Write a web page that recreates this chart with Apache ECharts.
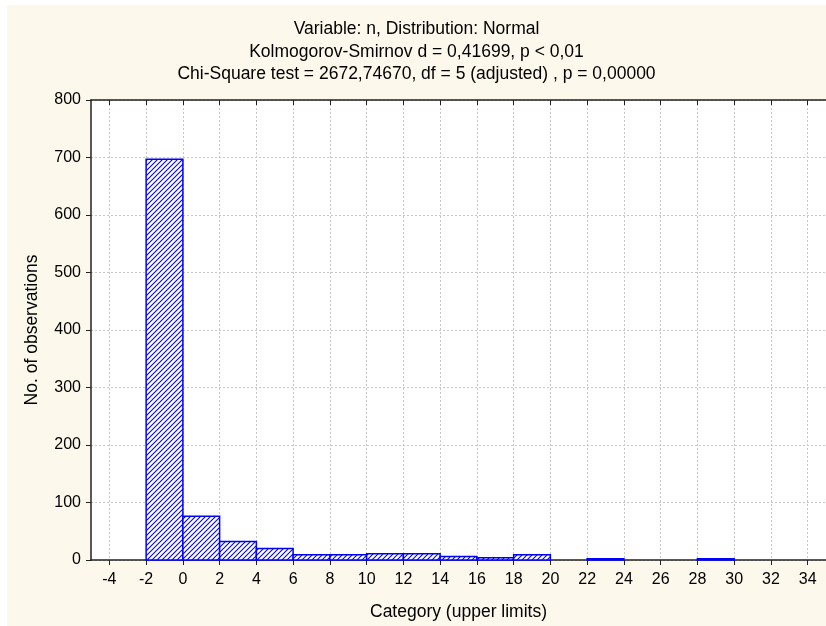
<!DOCTYPE html>
<html>
<head>
<meta charset="utf-8">
<script src="https://cdn.jsdelivr.net/npm/echarts@6/dist/echarts.min.js"></script>
<style>
  html, body { margin: 0; padding: 0; background: #ffffff; }
  #wrap { position: relative; width: 826px; height: 626px; background: #ffffff; overflow: hidden; }
  #chart { position: absolute; left: 7px; top: 5px; width: 819px; height: 621px; }
</style>
</head>
<body>
<div id="wrap"><div id="chart"></div></div>
<script>
// histogram bins (lower / upper limits) and counts
var binLower = [-2, 0, 2, 4, 6, 8, 10, 12, 14, 16, 18, 20, 22, 24, 26, 28, 30, 32];
var binUpper = [0, 2, 4, 6, 8, 10, 12, 14, 16, 18, 20, 22, 24, 26, 28, 30, 32, 34];
var counts = [697, 76, 32, 20, 9, 9, 11, 11, 6, 4, 9, 0, 2, 0, 0, 2, 0, 0];
var xTicks = [-4, -2, 0, 2, 4, 6, 8, 10, 12, 14, 16, 18, 20, 22, 24, 26, 28, 30, 32, 34];
var titleLines = [
  'Variable: n, Distribution: Normal',
  'Kolmogorov-Smirnov d = 0,41699, p < 0,01',
  'Chi-Square test = 2672,74670, df = 5 (adjusted) , p = 0,00000'
];

var FONT = 'Liberation Sans, Arial, sans-serif';
var BLUE = '#0000ff';

// diagonal hatch fill
function makeHatch() {
  var s = 5;
  var c = document.createElement('canvas');
  c.width = s; c.height = s;
  var g = c.getContext('2d');
  g.fillStyle = '#ffffff';
  g.fillRect(0, 0, s, s);
  g.strokeStyle = BLUE;
  g.lineWidth = 1.1;
  g.beginPath();
  g.moveTo(0, s); g.lineTo(s, 0);
  g.moveTo(-1, 1); g.lineTo(1, -1);
  g.moveTo(s - 1, s + 1); g.lineTo(s + 1, s - 1);
  g.stroke();
  return c;
}
var hatch = { image: makeHatch(), repeat: 'repeat' };

var barData = binLower.map(function (lo, i) { return [lo, binUpper[i], counts[i]]; });

var chart = echarts.init(document.getElementById('chart'), null, { renderer: 'canvas' });
chart.setOption({
  backgroundColor: '#fdf8ec',
  animation: false,
  textStyle: { fontFamily: FONT },
  title: {
    text: titleLines.join('\n'),
    left: 'center',
    top: 8,
    textStyle: { color: '#000', fontSize: 17.5, fontWeight: 'normal', fontFamily: FONT, lineHeight: 22.5 }
  },
  grid: {
    left: 84, top: 95, right: -3, bottom: 65,
    show: true, backgroundColor: '#ffffff', borderWidth: 0
  },
  xAxis: [{
    type: 'value',
    min: -5,
    max: 35,
    position: 'bottom',
    name: 'Category (upper limits)',
    nameLocation: 'middle',
    nameGap: 43,
    nameTextStyle: { color: '#000', fontSize: 17.5, fontFamily: FONT },
    axisLine: { onZero: false, lineStyle: { color: '#222', width: 1.5 } },
    axisTick: { show: true, inside: false, length: 5, customValues: xTicks, lineStyle: { color: '#222' } },
    axisLabel: { customValues: xTicks, color: '#000', fontSize: 16, margin: 12, fontFamily: FONT },
    splitLine: { show: true, lineStyle: { color: '#c8c8c8', type: [2, 2], width: 1 } }
  }, {
    type: 'value',
    min: -5,
    max: 35,
    position: 'top',
    axisLine: { onZero: false, lineStyle: { color: '#222', width: 1.5 } },
    axisTick: { show: true, inside: true, length: 5, customValues: xTicks, lineStyle: { color: '#222' } },
    axisLabel: { show: false },
    splitLine: { show: false }
  }],
  yAxis: {
    type: 'value',
    min: 0,
    max: 800,
    interval: 100,
    name: 'No. of observations',
    nameLocation: 'middle',
    nameRotate: 90,
    nameGap: 50,
    nameTextStyle: { color: '#000', fontSize: 17.5, fontFamily: FONT },
    axisLine: { show: true, onZero: false, lineStyle: { color: '#222', width: 1.5 } },
    axisTick: { show: true, inside: false, length: 5, lineStyle: { color: '#222' } },
    axisLabel: { color: '#000', fontSize: 16, margin: 10, fontFamily: FONT },
    splitLine: { show: true, lineStyle: { color: '#c8c8c8', type: [2, 2], width: 1 } }
  },
  series: [{
    type: 'custom',
    xAxisIndex: 0,
    data: barData,
    encode: { x: [0, 1], y: 2 },
    renderItem: function (params, api) {
      if (!api.value(2)) return null;
      var p0 = api.coord([api.value(0), api.value(2)]);
      var p1 = api.coord([api.value(1), 0]);
      return {
        type: 'rect',
        shape: { x: p0[0], y: p0[1], width: p1[0] - p0[0], height: p1[1] - p0[1] },
        style: { fill: hatch, stroke: BLUE, lineWidth: 1.5 }
      };
    }
  }]
});
</script>
</body>
</html>
